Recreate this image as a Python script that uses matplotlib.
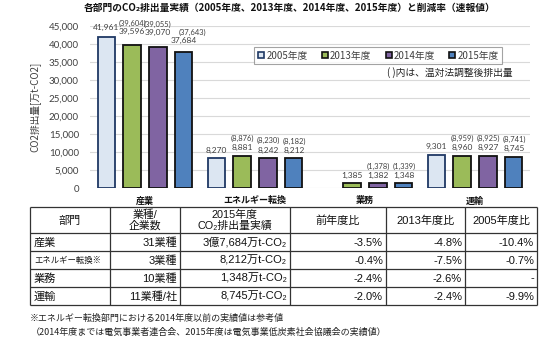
import numpy as np
import matplotlib
matplotlib.use('Agg')
import matplotlib.pyplot as plt
from matplotlib.lines import Line2D

# ---------------- data ----------------
categories = ['産業', 'エネルギー転換', '業務', '運輸']
years = ['2005年度', '2013年度', '2014年度', '2015年度']
v2005 = [41961, 8270, np.nan, 9301]
v2013 = [39596, 8881, 1385, 8960]
v2014 = [39070, 8242, 1382, 8927]
v2015 = [37684, 8212, 1348, 8745]
adj2013 = [39604, 8876, np.nan, 8959]
adj2014 = [39055, 8230, 1378, 8925]
adj2015 = [37643, 8182, 1339, 8741]
yticks = [0, 5000, 10000, 15000, 20000, 25000, 30000, 35000, 40000, 45000]

table_header = [['部門'], ['業種/', '企業数'], ['2015年度', 'CO₂排出量実績'], ['前年度比'], ['2013年度比'], ['2005年度比']]
table_rows = [
    ['産業', '31業種', '3億7,684万t-CO₂', '-3.5%', '-4.8%', '-10.4%'],
    ['エネルギー転換※', '3業種', '8,212万t-CO₂', '-0.4%', '-7.5%', '-0.7%'],
    ['業務', '10業種', '1,348万t-CO₂', '-2.4%', '-2.6%', '-'],
    ['運輸', '11業種/社', '8,745万t-CO₂', '-2.0%', '-2.4%', '-9.9%'],
]
title = '各部門のCO₂排出量実績（2005年度、2013年度、2014年度、2015年度）と削減率（速報値）'
note = '( )内は、温対法調整後排出量'
footnotes = ['※エネルギー転換部門における2014年度以前の実績値は参考値',
             '（2014年度までは電気事業者連合会、2015年度は電気事業低炭素社会協議会の実績値）']

# ---------------- style ----------------
JP = ['Noto Sans CJK JP', 'DejaVu Sans']
TB = ['Liberation Sans', 'Noto Sans CJK JP', 'DejaVu Sans']
NUM = ['Lato', 'DejaVu Sans']
fills = ['#dce6f2', '#9bbb59', '#8064a2', '#4f81bd']
edges = ['#1f3864', '#111111', '#111111', '#111111']
plt.rcParams['font.family'] = JP

W, H = 560, 350
fig = plt.figure(figsize=(W / 100, H / 100), dpi=100)

def fx(px):
    return px / W

def fy(py):
    return 1 - py / H

ax = fig.add_axes([fx(90), fy(188), fx(440), 162 / H])
series = [v2005, v2013, v2014, v2015]
adjs = [None, adj2013, adj2014, adj2015]
x = np.arange(len(categories))
step = 0.236
bw = 0.155
# label offsets in pixels (value label, adjusted label) per series for each category
val_off = [[9, 8, 8, 8], [14, 9, 8, 8], [15, 8, 8, 8], [12, 8, 8, 8]]
adj_off = [[0, 0, 0, 0], [22, 17.5, 0, 17.5], [23, 17.5, 16.5, 17.5], [20, 17.5, 16.5, 17.5]]
adj_dx = [[0, 0, 0, 0], [0, 0, 0, 0], [0, 0, 0, 0], [8, 0, 0, 0]]

for j, vals in enumerate(series):
    xs = x + (j - 1.5) * step
    arr = np.array(vals, dtype=float)
    ok = ~np.isnan(arr)
    ax.bar(xs[ok], arr[ok], width=bw, color=fills[j], edgecolor=edges[j],
           linewidth=1.3, zorder=3, label=years[j])
    for i, v in enumerate(arr):
        if np.isnan(v):
            continue
        ax.annotate(f'{int(v):,}', (xs[i], v), xytext=(0, val_off[j][i]),
                    textcoords='offset pixels', ha='center', va='center',
                    fontsize=6, color='#404040', family=NUM, zorder=4)
        if adjs[j] is not None and not np.isnan(adjs[j][i]):
            ax.annotate(f'({int(adjs[j][i]):,})', (xs[i], v),
                        xytext=(adj_dx[j][i], adj_off[j][i]),
                        textcoords='offset pixels', ha='center', va='center',
                        fontsize=5.4, color='#404040', family=NUM, zorder=4)

ax.set_xlim(-0.5, len(categories) - 0.5)
ax.set_ylim(0, 45000)
ax.set_yticks(yticks)
ax.set_yticklabels([f'{t:,}' for t in yticks], family=NUM, fontsize=7, color='#404040')
ax.set_xticks(x)
ax.set_xticklabels(categories, fontsize=6.5, fontweight='bold', color='#111111')
ax.tick_params(axis='both', length=0)
ax.tick_params(axis='x', pad=6)
ax.tick_params(axis='y', pad=8)
ax.grid(axis='y', color='#d9d9d9', linewidth=0.8, zorder=0)
for s in ax.spines.values():
    s.set_visible(False)
ax.set_axisbelow(True)
ax.set_ylabel('CO2排出量[万t-CO2]', fontsize=7, color='#404040', labelpad=6)

handles = [Line2D([], [], marker='s', ls='', ms=4.5, mfc=fills[j], mec=edges[j],
                  mew=1.2) for j in range(4)]
leg = fig.legend(handles, years, loc='center', bbox_to_anchor=(fx(378), fy(55.5)),
                 ncol=4, frameon=True, fancybox=False, handlelength=0.8,
                 handletextpad=0.1, columnspacing=1.4, borderpad=0.35,
                 prop={'family': JP, 'size': 7})
leg.get_frame().set_edgecolor('#8c8c8c')
leg.get_frame().set_linewidth(0.8)
for t in leg.get_texts():
    t.set_color('#404040')

# overlay for text and table
ov = fig.add_axes([0, 0, 1, 1], zorder=5)
ov.set_xlim(0, W)
ov.set_ylim(H, 0)
ov.axis('off')
ov.patch.set_alpha(0)

ov.text(290, 8, title, ha='center', va='center', fontsize=7, fontweight='bold', color='#111111')
ov.text(513, 73, note, ha='right', va='center', fontsize=7, color='#222222')

cols = [30, 110, 180, 290, 386, 465, 537]
rows = [207, 233, 251, 269, 287, 305]
ov.hlines(rows, cols[0], cols[-1], color='#333333', linewidth=0.9)
ov.vlines(cols, rows[0], rows[-1], color='#333333', linewidth=0.9)

for c, lines in enumerate(table_header):
    xc = (cols[c] + cols[c + 1]) / 2
    if len(lines) == 1:
        ov.text(xc, (rows[0] + rows[1]) / 2 + 0.5, lines[0], ha='center', va='center',
                fontsize=8, family=TB, color='#111111')
    else:
        ov.text(xc, rows[0] + 7.5, lines[0], ha='center', va='center',
                fontsize=7.8, family=TB, color='#111111')
        ov.text(xc, rows[0] + 19, lines[1], ha='center', va='center',
                fontsize=7.8, family=TB, color='#111111')
for r, row in enumerate(table_rows):
    yc = (rows[r + 1] + rows[r + 2]) / 2 + 0.5
    for c, txt in enumerate(row):
        if c == 0:
            fs = 6 if len(txt) > 4 else 8
            ov.text(cols[0] + 4, yc, txt, ha='left', va='center', fontsize=fs, family=TB, color='#111111')
        else:
            ov.text(cols[c + 1] - 3, yc, txt, ha='right', va='center', fontsize=8, family=TB, color='#111111')

ov.text(30, 318, footnotes[0], ha='left', va='center', fontsize=6.5, color='#222222')
ov.text(31, 332, footnotes[1], ha='left', va='center', fontsize=6.5, color='#222222')

fig.savefig('out.png', dpi=100)
